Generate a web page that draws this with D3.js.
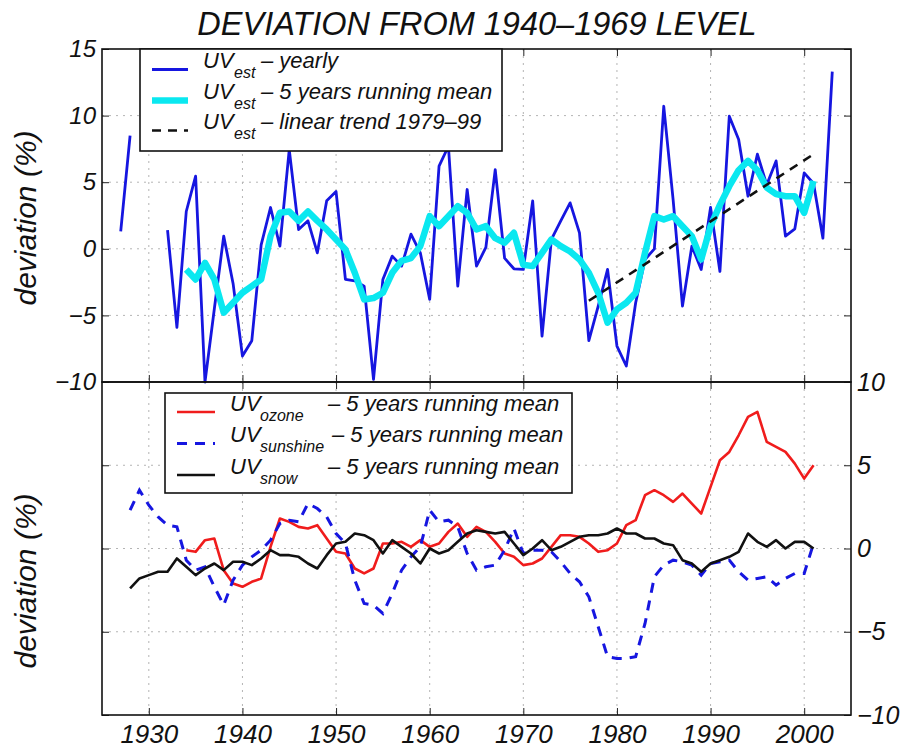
<!DOCTYPE html>
<html>
<head>
<meta charset="utf-8">
<script src="https://cdn.jsdelivr.net/npm/d3@7"></script>
<style>
  body { margin: 0; background: #fff; }
  svg text { font-family: "Liberation Sans", Arial, Helvetica, sans-serif; font-style: italic; fill: #111; }
</style>
</head>
<body>
<svg id="chart" width="909" height="751"></svg>
<script>
// ---- data -------------------------------------------------------------
const xTicks = [1930, 1940, 1950, 1960, 1970, 1980, 1990, 2000];
const yTicksTop = [-10, -5, 0, 5, 10, 15];
const yTicksBottom = [-10, -5, 0, 5, 10];

// UV_est yearly deviation (%), 1927-2003 (no data 1929-1931)
const uvEstYearlyStart = 1927;
const uvEstYearly = [
  1.3, 8.5, null, null, null, 1.4, -5.9, 2.8, 5.45, -10.0,
  -4.5, 0.95, -2.6, -8.05, -6.9, 0.3, 3.1, 0.2, 7.45, 1.45,
  2.1, -0.3, 3.6, 4.3, -2.3, -2.4, -2.8, -9.8, -2.3, -0.55,
  -1.3, 1.1, -0.3, -3.8, 6.2, 7.7, -2.8, 4.45, -1.3, 0.1,
  5.95, -0.7, -1.5, -1.55, 3.6, -6.55, 0.7, 2.1, 3.45, 1.2,
  -6.9, -4.3, -1.55, -7.3, -8.8, -4.05, -0.8, 0.0, 10.7, 3.7,
  -4.3, 0.2, -1.55, 3.1, -1.7, 9.95, 8.2, 3.95, 7.1, 4.8,
  6.6, 0.95, 1.5, 5.7, 4.9, 0.8, 13.3
];

// UV_est 5 years running mean, 1934-2001
const uvEstMeanStart = 1934;
const uvEstMean = [
  -1.55, -2.3, -1.05, -2.3, -4.8, -4.05, -3.3, -2.8, -2.3, 0.95,
  2.7, 2.8, 2.1, 2.8, 2.1, 1.45, 0.7, -0.05, -1.8, -3.8,
  -3.7, -3.3, -1.8, -0.9, -0.7, 0.2, 2.45, 1.7, 2.45, 3.2,
  2.7, 1.45, 1.7, 0.8, 0.45, 1.2, -1.2, -1.3, -0.3, 0.7,
  0.2, -0.2, -0.8, -1.8, -3.3, -5.55, -4.55, -4.05, -3.3, -0.3,
  2.45, 2.2, 2.45, 1.7, 0.95, -0.8, 1.7, 3.3, 4.7, 5.9,
  6.6, 5.9, 4.6, 4.1, 3.95, 3.95, 2.7, 5.1
];

// UV_est linear trend end points
const trendYears = [1977, 2001];
const trendValues = [-3.9, 7.1];

// UV_ozone 5 years running mean, 1934-2001
const uvOzoneStart = 1934;
const uvOzone = [
  -0.1, -0.2, 0.5, 0.6, -1.3, -2.1, -2.3, -2.0, -1.8, 0.1,
  1.8, 1.6, 1.3, 1.2, 1.4, 0.6, -0.2, -0.3, -1.2, -1.5,
  -1.2, 0.3, 0.3, 0.4, 0.1, 0.5, 0.1, 0.3, 1.0, 1.5,
  0.7, 1.3, 1.0, 0.4, -0.3, -0.5, -1.0, -0.9, -0.6, 0.1,
  0.8, 0.8, 0.7, 0.3, -0.2, -0.1, 0.3, 1.4, 1.7, 3.2,
  3.5, 3.2, 2.8, 3.3, 2.7, 2.1, 3.7, 5.3, 5.8, 6.8,
  7.9, 8.2, 6.4, 6.1, 5.8, 5.1, 4.2, 5.0
];

// UV_sunshine 5 years running mean, 1928-2001
const uvSunshineStart = 1928;
const uvSunshine = [
  2.3, 3.5, 2.6, 1.9, 1.4, 1.3, -0.7, -1.3, -1.1, -2.3,
  -3.4, -1.9, -1.0, -0.5, -0.1, 0.5, 1.5, 1.7, 1.6, 2.7,
  2.4, 1.9, 0.9, 0.3, -1.9, -3.3, -3.4, -3.9, -2.7, -1.3,
  -0.5, 0.1, 2.3, 1.6, 1.7, 1.3, -0.3, -1.3, -1.1, -1.0,
  -0.1, 1.2, -0.3, -0.1, -0.1, -0.2, -0.8, -1.5, -2.0, -2.9,
  -4.7, -6.5, -6.6, -6.6, -6.5, -4.5, -1.7, -1.0, -0.7, -0.8,
  -1.0, -1.6, -0.9, -0.8, -0.7, -1.4, -1.9, -1.8, -1.7, -2.2,
  -1.8, -1.5, -1.5, 0.3
];

// UV_snow 5 years running mean, 1928-2001
const uvSnowStart = 1928;
const uvSnow = [
  -2.4, -1.8, -1.6, -1.4, -1.4, -0.6, -1.1, -1.6, -1.2, -0.9,
  -1.3, -0.8, -0.8, -1.0, -0.6, -0.1, -0.4, -0.4, -0.5, -0.9,
  -1.2, -0.4, 0.3, 0.4, 0.9, 0.8, 0.5, -0.3, 0.5, 0.1,
  -0.3, -0.9, 0.0, -0.3, -0.1, 0.4, 0.9, 1.1, 1.0, 0.9,
  1.0, 0.3, -0.4, 0.0, 0.5, -0.1, 0.1, 0.4, 0.7, 0.8,
  0.8, 0.9, 1.2, 0.9, 0.9, 0.6, 0.6, 0.3, 0.2, -0.7,
  -0.9, -1.4, -0.9, -0.7, -0.5, -0.2, 0.9, 0.4, 0.1, 0.5,
  0.0, 0.4, 0.4, 0.0
];

// ---- layout & scales --------------------------------------------------
const svg = d3.select("#chart");
const L = 102, R = 851;
const T1 = 49, B1 = 382;   // upper panel
const T2 = 382, B2 = 715;  // lower panel

const x = d3.scaleLinear().domain([1925, 2005]).range([L, R]);
const yTop = d3.scaleLinear().domain([-10, 15]).range([B1, T1]);
const yBot = d3.scaleLinear().domain([-10, 10]).range([B2, T2]);

const toPoints = (start, vals) => vals.map((v, i) => ({ year: start + i, v }));

const BLUE = "#1616e0", CYAN = "#0ae8f0", RED = "#f01c1c";

// ---- grids ------------------------------------------------------------
function grid(y, yTicks, top, bottom) {
  const g = svg.append("g").attr("stroke", "#b4b4b4").attr("stroke-width", 1)
    .attr("stroke-dasharray", "2,5");
  g.selectAll("line.v").data(xTicks).join("line").attr("class", "v")
    .attr("x1", d => x(d)).attr("x2", d => x(d)).attr("y1", top).attr("y2", bottom);
  g.selectAll("line.h").data(yTicks.filter(d => y(d) > top + 1 && y(d) < bottom - 1))
    .join("line").attr("class", "h")
    .attr("x1", L).attr("x2", R).attr("y1", d => y(d)).attr("y2", d => y(d));
}
grid(yTop, yTicksTop, T1, B1);
grid(yBot, yTicksBottom, T2, B2);

// ---- upper panel lines -----------------------------------------------
const lineTop = d3.line().defined(d => d.v !== null).x(d => x(d.year)).y(d => yTop(d.v));
const lineBot = d3.line().x(d => x(d.year)).y(d => yBot(d.v));

svg.append("path").datum(toPoints(uvEstYearlyStart, uvEstYearly))
  .attr("d", lineTop).attr("fill", "none").attr("stroke", BLUE)
  .attr("stroke-width", 2.8).attr("stroke-linejoin", "round");

svg.append("path").datum(toPoints(uvEstMeanStart, uvEstMean))
  .attr("d", lineTop).attr("fill", "none").attr("stroke", CYAN)
  .attr("stroke-width", 6.5).attr("stroke-linejoin", "round");

svg.append("path").datum(trendYears.map((yr, i) => ({ year: yr, v: trendValues[i] })))
  .attr("d", lineTop).attr("fill", "none").attr("stroke", "#111")
  .attr("stroke-width", 2.6).attr("stroke-dasharray", "9,7");

// ---- lower panel lines -----------------------------------------------
svg.append("path").datum(toPoints(uvOzoneStart, uvOzone))
  .attr("d", lineBot).attr("fill", "none").attr("stroke", RED)
  .attr("stroke-width", 2.6).attr("stroke-linejoin", "round");

svg.append("path").datum(toPoints(uvSunshineStart, uvSunshine))
  .attr("d", lineBot).attr("fill", "none").attr("stroke", BLUE)
  .attr("stroke-width", 3).attr("stroke-dasharray", "10,8");

svg.append("path").datum(toPoints(uvSnowStart, uvSnow))
  .attr("d", lineBot).attr("fill", "none").attr("stroke", "#111")
  .attr("stroke-width", 2.6).attr("stroke-linejoin", "round");

// ---- axes -------------------------------------------------------------
function styleAxis(g, size) {
  g.select(".domain").remove();
  g.selectAll(".tick line").attr("stroke", "#222").attr("stroke-width", 1);
  g.selectAll("text").attr("font-family", null).attr("font-size", size)
    .style("font-style", "italic").attr("fill", "#111");
}
const noLabel = () => "";

// upper panel
svg.append("g").attr("transform", `translate(${L},0)`)
  .call(d3.axisLeft(yTop).tickValues(yTicksTop).tickSize(-7).tickPadding(6))
  .call(g => styleAxis(g, 24));
svg.append("g").attr("transform", `translate(${R},0)`)
  .call(d3.axisRight(yTop).tickValues(yTicksTop).tickSize(-7).tickFormat(noLabel))
  .call(g => styleAxis(g, 24));
svg.append("g").attr("transform", `translate(0,${T1})`)
  .call(d3.axisTop(x).tickValues(xTicks).tickSize(-7).tickFormat(noLabel))
  .call(g => styleAxis(g, 24));
svg.append("g").attr("transform", `translate(0,${B1})`)
  .call(d3.axisBottom(x).tickValues(xTicks).tickSize(-7).tickFormat(noLabel))
  .call(g => styleAxis(g, 24));

// lower panel
svg.append("g").attr("transform", `translate(${L},0)`)
  .call(d3.axisLeft(yBot).tickValues(yTicksBottom).tickSize(-7).tickFormat(noLabel))
  .call(g => styleAxis(g, 25));
svg.append("g").attr("transform", `translate(${R},0)`)
  .call(d3.axisRight(yBot).tickValues(yTicksBottom).tickSize(-7).tickPadding(6))
  .call(g => styleAxis(g, 25));
svg.append("g").attr("transform", `translate(0,${T2})`)
  .call(d3.axisTop(x).tickValues(xTicks).tickSize(-7).tickFormat(noLabel))
  .call(g => styleAxis(g, 25));
svg.append("g").attr("transform", `translate(0,${B2})`)
  .call(d3.axisBottom(x).tickValues(xTicks).tickSize(-7).tickPadding(10).tickFormat(d3.format("d")))
  .call(g => styleAxis(g, 26));

// panel frames
[[T1, B1], [T2, B2]].forEach(([t, b]) => {
  svg.append("rect").attr("x", L).attr("y", t).attr("width", R - L).attr("height", b - t)
    .attr("fill", "none").attr("stroke", "#111").attr("stroke-width", 1.6);
});

// ---- legends ----------------------------------------------------------
function legend(box, rows, uvX, subX) {
  const g = svg.append("g");
  g.append("rect").attr("x", box.x).attr("y", box.y).attr("width", box.w).attr("height", box.h)
    .attr("fill", "#fff").attr("stroke", "#111").attr("stroke-width", 1.6);
  rows.forEach(r => {
    g.append("line").attr("x1", box.lx1).attr("x2", box.lx2).attr("y1", r.y).attr("y2", r.y)
      .attr("stroke", r.color).attr("stroke-width", r.width)
      .attr("stroke-dasharray", r.dash || null);
    const base = r.y - 1.5;
    g.append("text").attr("x", uvX).attr("y", base).attr("font-size", 22).text("UV");
    g.append("text").attr("x", subX).attr("y", base + 10).attr("font-size", 16).text(r.sub);
    g.append("text").attr("x", r.tx).attr("y", base).attr("font-size", 22).text(r.text);
  });
}

legend({ x: 140, y: T1, w: 362, h: 102, lx1: 152, lx2: 188 }, [
  { y: 69.5, color: BLUE, width: 2.8, sub: "est", text: "– yearly", tx: 261 },
  { y: 100.5, color: CYAN, width: 6.5, sub: "est", text: "– 5 years running mean", tx: 261 },
  { y: 130.5, color: "#111", width: 2.6, dash: "9,7", sub: "est", text: "– linear trend 1979–99", tx: 261 }
], 203, 234);

legend({ x: 165, y: 393, w: 407, h: 100, lx1: 177, lx2: 215 }, [
  { y: 412, color: RED, width: 2.6, sub: "ozone", text: "– 5 years running mean", tx: 328 },
  { y: 443.5, color: BLUE, width: 3, dash: "10,8", sub: "sunshine", text: "– 5 years running mean", tx: 332 },
  { y: 475, color: "#111", width: 2.6, sub: "snow", text: "– 5 years running mean", tx: 328 }
], 230, 260);

// ---- titles -----------------------------------------------------------
svg.append("text").attr("x", 477).attr("y", 35).attr("text-anchor", "middle")
  .attr("font-size", 32.5).text("DEVIATION FROM 1940–1969 LEVEL");

[218, 581].forEach(cy => {
  svg.append("text").attr("transform", `translate(36,${cy}) rotate(-90)`)
    .attr("text-anchor", "middle").attr("font-size", 30).text("deviation (%)");
});
</script>
</body>
</html>
